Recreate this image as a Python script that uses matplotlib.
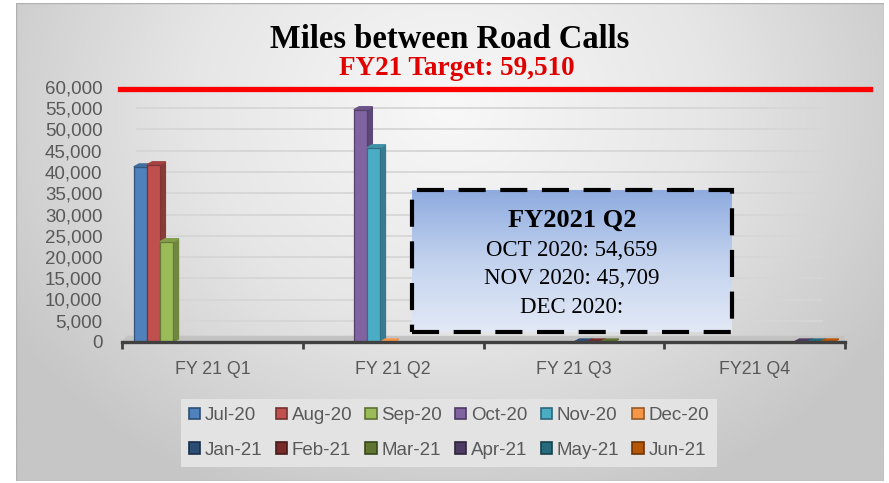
import numpy as np
import matplotlib
matplotlib.use('Agg')
import matplotlib.pyplot as plt
from matplotlib.patches import Patch, Rectangle
from matplotlib.colors import LinearSegmentedColormap, to_rgb

# ---- data ----
quarters = ['FY 21 Q1', 'FY 21 Q2', 'FY 21 Q3', 'FY21 Q4']
months = ['Jul-20', 'Aug-20', 'Sep-20', 'Oct-20', 'Nov-20', 'Dec-20',
          'Jan-21', 'Feb-21', 'Mar-21', 'Apr-21', 'May-21', 'Jun-21']
month_values = [41200, 41700, 23600, 54659, 45709, 0,
                0, 0, 0, 0, 0, 0]
month_quarter = [0, 0, 0, 1, 1, 1, 2, 2, 2, 3, 3, 3]
month_colors = ['#4F81BD', '#C0504D', '#9BBB59', '#8064A2', '#4BACC6', '#F79646',
                '#2C4D75', '#772C2A', '#5F7530', '#4D3B62', '#276A7C', '#B65708']
target = 59510
yticks = list(range(0, 60001, 5000))
box_title = 'FY2021 Q2'
box_lines = ['OCT 2020: 54,659', 'NOV 2020: 45,709', 'DEC 2020:']

W, H = 889, 483
SANS = 'Liberation Sans'
SERIF = 'Liberation Serif'
GREY = '#595959'


def shade(c, f):
    r, g, b = to_rgb(c)
    if f < 1:
        return (r * f, g * f, b * f)
    return (r + (1 - r) * (f - 1), g + (1 - g) * (f - 1), b + (1 - b) * (f - 1))


fig = plt.figure(figsize=(W / 100, H / 100), dpi=100)
fig.patch.set_facecolor('white')

# background panel with radial gradient
bg = fig.add_axes([16 / W, 1 - 481 / H, 868 / W, 478 / H], zorder=-5)
yy, xx = np.mgrid[0:1:200j, 0:1:300j]
r = np.sqrt(((xx - 0.5) / 0.6) ** 2 + ((yy - 0.22) / 0.9) ** 2)
bg_cmap = LinearSegmentedColormap.from_list('bg', ['#f8f8f8', '#e6e6e6', '#c6c6c6'])
bg.imshow(np.clip(r, 0, 1), cmap=bg_cmap, extent=[0, 1, 0, 1], aspect='auto', origin='upper')
bg.add_patch(Rectangle((0, 0), 1, 1, transform=bg.transAxes, fill=False,
                       ec='#b0b0b0', lw=1.0))
bg.axis('off')

# main plot
ax = fig.add_axes([122 / W, 1 - 342 / H, 723 / W, 255 / H])
ax.set_facecolor('none')
ax.set_xlim(-0.5, len(quarters) - 0.5)
ax.set_ylim(0, 60000)

n = len(months)
slot = 0.0725
gap = 1 - n * slot
dx, dy = 0.03, 700

# floor
ax.fill([-0.5, 3.5, 3.5 + dx, -0.5 + dx], [0, 0, 1300, 1300], color='#c3c3c3', zorder=1)

# gridlines
ax.hlines(yticks[1:], -0.42, 3.38, color='#d6d6d6', lw=1.3, zorder=0.5)

for i, (v, q, c) in enumerate(zip(month_values, month_quarter, month_colors)):
    x0 = q - 0.5 + gap / 2 + i * slot
    x1 = x0 + slot
    z = 3 + i * 0.01
    ax.fill([x1, x1 + dx, x1 + dx, x1], [0, dy, v + dy, v],
            color=shade(c, 0.72), zorder=z)
    ax.fill([x0, x1, x1 + dx, x0 + dx], [v, v, v + dy, v + dy],
            color=shade(c, 0.85) if v > 0 else c, zorder=z)
    if v > 0:
        ax.bar(x0, v, width=slot, align='edge', color=c,
               edgecolor=shade(c, 0.65), linewidth=0.9, zorder=z + 0.001)

# target line
ax.axhline(target, xmin=-0.003, xmax=1.035, color='#FF0000', lw=3.8,
           clip_on=False, zorder=6)

# axes styling
for s in ['left', 'right', 'top']:
    ax.spines[s].set_visible(False)
ax.spines['bottom'].set_color('#404040')
ax.spines['bottom'].set_linewidth(2.4)
ax.spines['bottom'].set_zorder(7)
ax.set_yticks(yticks)
ax.set_yticklabels([f'{t:,}' for t in yticks])
ax.set_xticks(range(len(quarters)))
ax.set_xticklabels(quarters)
ax.set_xticks(np.arange(-0.5, len(quarters)), minor=True)
ax.tick_params(axis='y', length=0, pad=14, labelsize=13.5, labelcolor=GREY)
ax.tick_params(axis='x', which='major', length=0, pad=14, labelsize=12.8, labelcolor=GREY)
ax.tick_params(axis='x', which='minor', length=5, width=2, color='#404040')
for lab in ax.get_xticklabels() + ax.get_yticklabels():
    lab.set_family(SANS)

# titles
fig.text(449.5 / W, 1 - 48.3 / H, 'Miles between Road Calls', ha='center', va='baseline',
         family=SERIF, weight='bold', fontsize=23.5, color='black')
fig.text(456.5 / W, 1 - 75 / H, f'FY21 Target: {target:,}', ha='center', va='baseline',
         family=SERIF, weight='bold', fontsize=19.5, color='#E00000')

# legend, filled row-wise
order = [k for col in range(6) for k in (col, col + 6)]
handles = [Patch(facecolor=month_colors[k], edgecolor=shade(month_colors[k], 0.6), lw=1.2)
           for k in order]
labels = [months[k] for k in order]
leg = fig.legend(handles, labels, loc='center', bbox_to_anchor=(449 / W, 1 - 433 / H),
                 ncol=6, frameon=True, fancybox=False, facecolor='#e3e3e3', edgecolor='none',
                 framealpha=1, prop={'family': SANS, 'size': 13.5},
                 handlelength=0.6, handleheight=0.6, handletextpad=0.25,
                 columnspacing=0.7, labelspacing=0.95, borderpad=0.45)
for t in leg.get_texts():
    t.set_color(GREY)

# annotation box
bax = fig.add_axes([412 / W, 1 - 332 / H, 320 / W, 142 / H], zorder=5)
grad = np.linspace(0, 1, 100).reshape(-1, 1)
box_cmap = LinearSegmentedColormap.from_list('box', ['#8eabdf', '#c2d2ee', '#e2e9f6'])
bax.imshow(grad, cmap=box_cmap, extent=[0, 1, 0, 1], aspect='auto', origin='upper')
bax.add_patch(Rectangle((0, 0), 1, 1, transform=bax.transAxes, fill=False,
                        ec='black', lw=3, ls=(0, (6.5, 3.5)), clip_on=False))
bax.axis('off')

cx = 572 / W
fig.text(cx, 1 - 227 / H, box_title, ha='center', va='baseline', family=SERIF,
         weight='bold', fontsize=19, zorder=10)
for txt, base in zip(box_lines, [256, 284.5, 313]):
    fig.text(cx, 1 - base / H, txt, ha='center', va='baseline', family=SERIF,
             fontsize=16.5, zorder=10)

fig.savefig('out.png', dpi=100)
